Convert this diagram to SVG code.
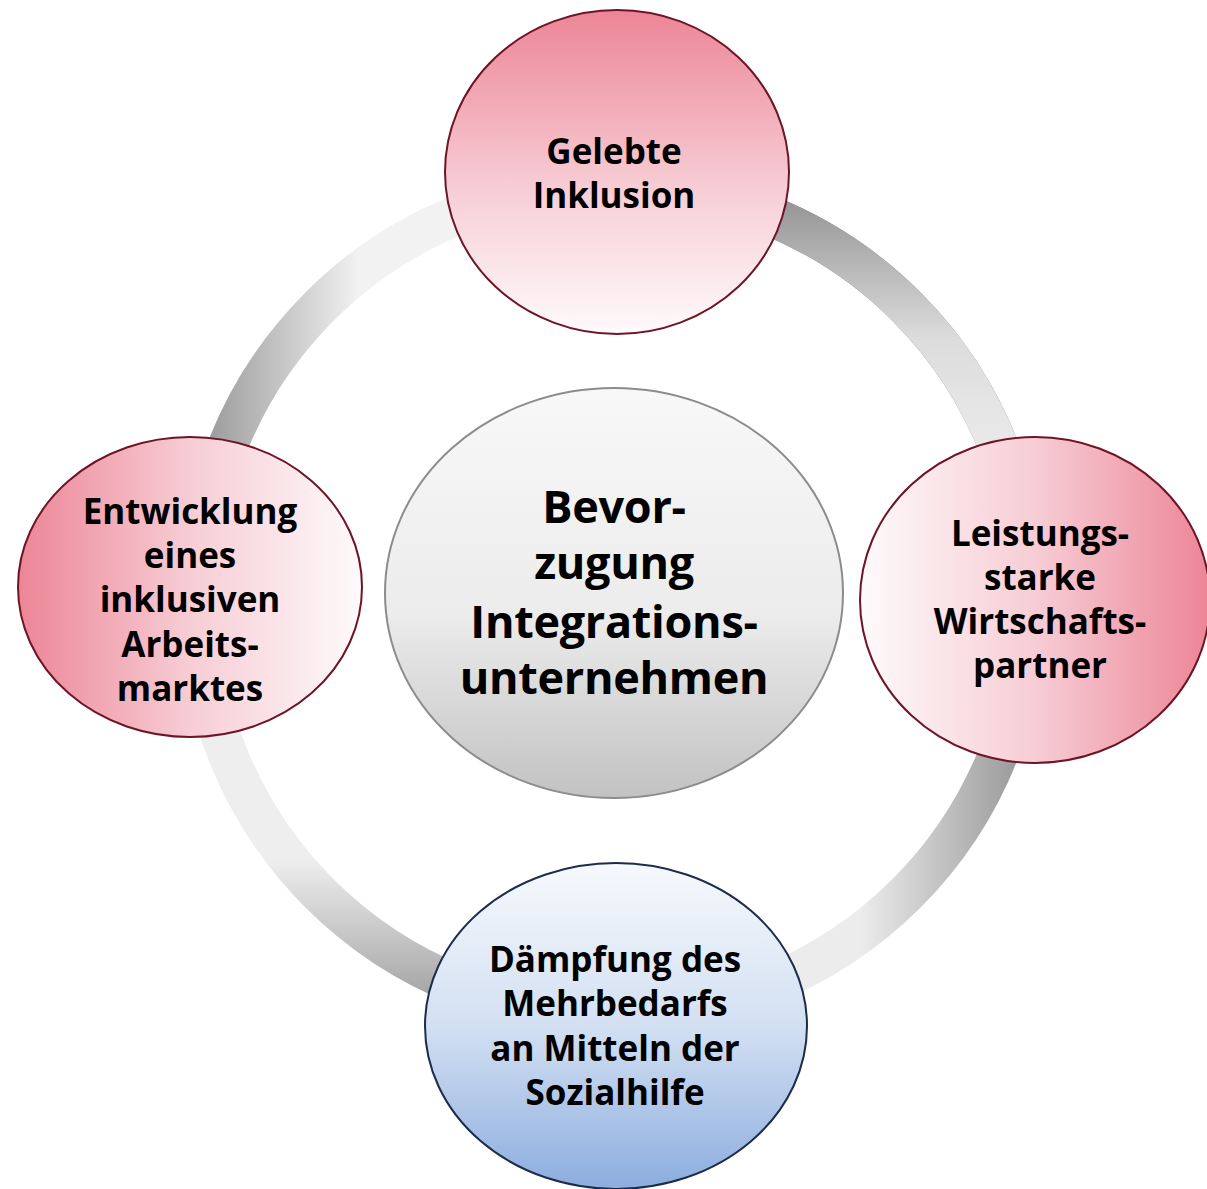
<svg xmlns="http://www.w3.org/2000/svg" width="1207" height="1189" viewBox="0 0 1207 1189">
<defs>
<linearGradient id="gTL" gradientUnits="userSpaceOnUse" x1="205" y1="0" x2="360" y2="0"><stop offset="0" stop-color="#9a9a9a"/><stop offset="1" stop-color="#f2f2f2"/></linearGradient>
<linearGradient id="gTR" gradientUnits="userSpaceOnUse" x1="0" y1="200" x2="0" y2="430"><stop offset="0" stop-color="#959595"/><stop offset="0.6" stop-color="#dcdcdc"/><stop offset="1" stop-color="#e8e8e8"/></linearGradient>
<linearGradient id="gBR" gradientUnits="userSpaceOnUse" x1="1012" y1="0" x2="860" y2="0"><stop offset="0" stop-color="#9e9e9e"/><stop offset="1" stop-color="#ececec"/></linearGradient>
<linearGradient id="gBL" gradientUnits="userSpaceOnUse" x1="0" y1="995" x2="0" y2="860"><stop offset="0" stop-color="#a6a6a6"/><stop offset="1" stop-color="#eeeeee"/></linearGradient>
<linearGradient id="pinkV" x1="0" y1="0" x2="0" y2="1"><stop offset="0" stop-color="#ec8596"/><stop offset="0.55" stop-color="#f7cdd5"/><stop offset="1" stop-color="#fefafb"/></linearGradient>
<linearGradient id="pinkL" x1="0" y1="0" x2="1" y2="0"><stop offset="0" stop-color="#ec8596"/><stop offset="0.5" stop-color="#f7cdd5"/><stop offset="1" stop-color="#fefafb"/></linearGradient>
<linearGradient id="pinkR" x1="0" y1="0" x2="1" y2="0"><stop offset="0" stop-color="#fefafb"/><stop offset="0.5" stop-color="#f7cdd5"/><stop offset="1" stop-color="#ec8596"/></linearGradient>
<linearGradient id="blueV" x1="0" y1="0" x2="0" y2="1"><stop offset="0" stop-color="#f6f9fd"/><stop offset="0.5" stop-color="#d3e0f2"/><stop offset="1" stop-color="#8caddf"/></linearGradient>
<linearGradient id="grayV" x1="0" y1="0" x2="0" y2="1"><stop offset="0" stop-color="#f8f8f8"/><stop offset="0.55" stop-color="#ececec"/><stop offset="1" stop-color="#c2c2c2"/></linearGradient>
<style>
.arc{fill:none;stroke-width:40}
.pk{stroke:#6d1526;stroke-width:2}
.bl{stroke:#1d2c4a;stroke-width:2}
.gr{stroke:#8c8c8c;stroke-width:2}
text{font-family:"Open Sans","Noto Sans","Liberation Sans",sans-serif;font-weight:700;fill:#000;text-anchor:middle}
.s{font-size:35px}
.b{font-size:45px;letter-spacing:-0.3px}
</style>
</defs>
<rect width="1207" height="1189" fill="#ffffff"/>
<g id="connectors">
<path class="arc" stroke="url(#gTL)" d="M198,600 A415,415 0 0 1 613,185"/>
<path class="arc" stroke="#7a7a7a" stroke-width="42" d="M613,185 A415,415 0 0 1 1028,600"/>
<path class="arc" stroke="url(#gTR)" d="M613,185 A415,415 0 0 1 1028,600"/>
<path class="arc" stroke="url(#gBR)" d="M1028,600 A415,415 0 0 1 613,1015"/>
<path class="arc" stroke="url(#gBL)" d="M613,1015 A415,415 0 0 1 198,600"/>
</g>
<g id="center">
<ellipse class="gr" cx="614" cy="593" rx="229" ry="205" fill="url(#grayV)"/>
<text class="b" x="614" y="523">Bevor-</text>
<text class="b" x="614" y="579">zugung</text>
<text class="b" x="614" y="638">Integrations-</text>
<text class="b" x="614" y="694">unternehmen</text>
</g>
<g id="top">
<ellipse class="pk" cx="617" cy="172" rx="172" ry="162" fill="url(#pinkV)"/>
<text class="s" x="614" y="164">Gelebte</text>
<text class="s" x="614" y="208">Inklusion</text>
</g>
<g id="left">
<ellipse class="pk" cx="190" cy="587" rx="172" ry="150" fill="url(#pinkL)"/>
<text class="s" x="190" y="524">Entwicklung</text>
<text class="s" x="190" y="568">eines</text>
<text class="s" x="190" y="612">inklusiven</text>
<text class="s" x="190" y="657">Arbeits-</text>
<text class="s" x="190" y="701">marktes</text>
</g>
<g id="right">
<ellipse class="pk" cx="1035" cy="600" rx="175" ry="163" fill="url(#pinkR)"/>
<text class="s" x="1040" y="546">Leistungs-</text>
<text class="s" x="1040" y="590">starke</text>
<text class="s" x="1040" y="634">Wirtschafts-</text>
<text class="s" x="1040" y="678">partner</text>
</g>
<g id="bottom">
<ellipse class="bl" cx="616" cy="1026" rx="191" ry="163" fill="url(#blueV)"/>
<text class="s" x="615" y="972">Dämpfung des</text>
<text class="s" x="615" y="1016">Mehrbedarfs</text>
<text class="s" x="615" y="1061">an Mitteln der</text>
<text class="s" x="615" y="1105">Sozialhilfe</text>
</g>
</svg>
